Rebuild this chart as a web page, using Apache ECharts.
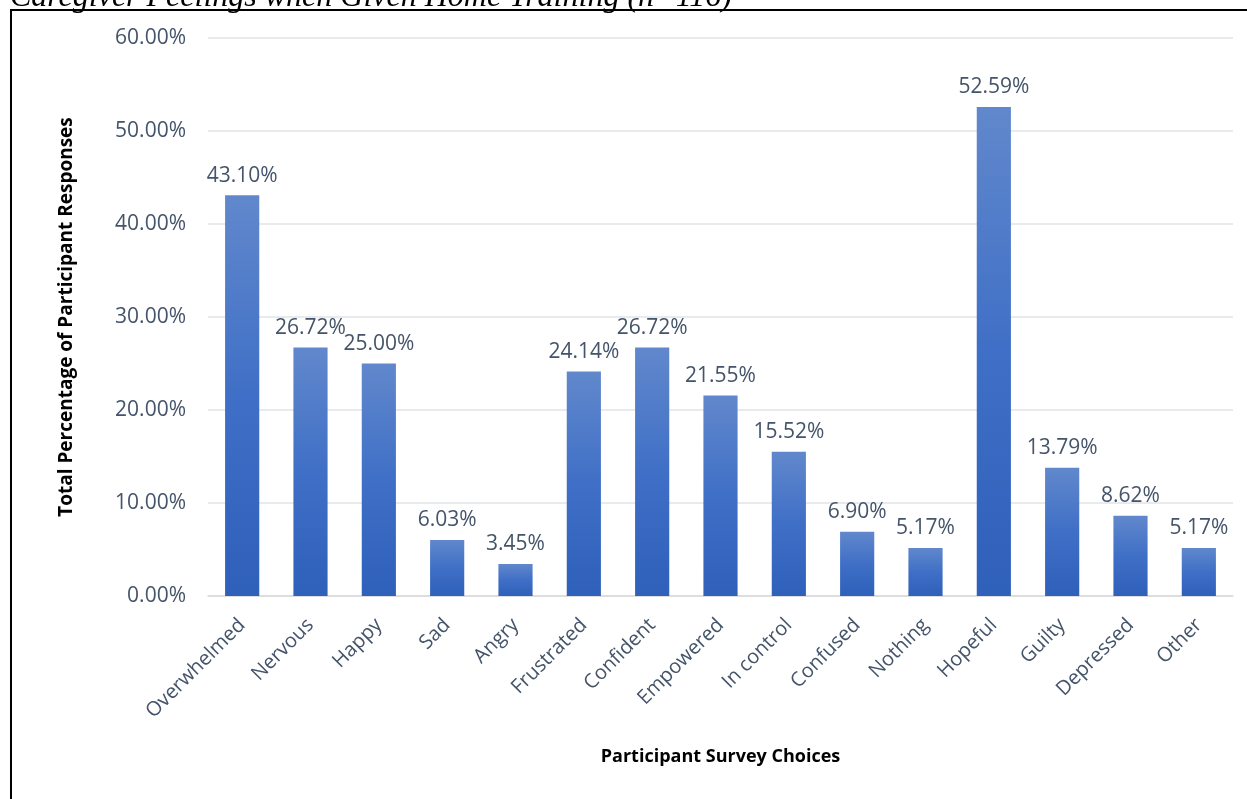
<!DOCTYPE html>
<html>
<head>
<meta charset="utf-8">
<script src="https://cdn.jsdelivr.net/npm/echarts@6/dist/echarts.min.js"></script>
<style>
  html, body { margin: 0; padding: 0; background: #fff; }
  #chart { width: 1247px; height: 799px; }
</style>
</head>
<body>
<div id="chart"></div>
<script>
// Survey responses: share of participants choosing each feeling
const categories = ['Overwhelmed', 'Nervous', 'Happy', 'Sad', 'Angry', 'Frustrated', 'Confident',
  'Empowered', 'In control', 'Confused', 'Nothing', 'Hopeful', 'Guilty', 'Depressed', 'Other'];
const percentages = [43.10, 26.72, 25.00, 6.03, 3.45, 24.14, 26.72, 21.55, 15.52, 6.90, 5.17, 52.59, 13.79, 8.62, 5.17];
const yTicks = { min: 0, max: 60, interval: 10 };
const titleText = 'Caregiver Feelings when Given Home Training (n=116)';

const chart = echarts.init(document.getElementById('chart'), null, { renderer: 'canvas' });

const labelColor = '#44546a';
const font = '"Open Sans", sans-serif';

chart.setOption({
  animation: false,
  backgroundColor: '#fff',
  graphic: [
    {
      type: 'rect',
      shape: { x: 11, y: 10, width: 1400, height: 1000 },
      style: { fill: 'none', stroke: '#000', lineWidth: 2 },
      silent: true
    },
    {
      type: 'text',
      left: 10,
      top: -18,
      style: {
        text: titleText,
        font: 'italic 32px "Liberation Serif", serif',
        fill: '#000'
      },
      silent: true
    }
  ],
  grid: { left: 208, right: 14, top: 38, bottom: 203, containLabel: false },
  xAxis: {
    type: 'category',
    data: categories,
    name: 'Participant Survey Choices',
    nameLocation: 'middle',
    nameGap: 152,
    nameTextStyle: { fontFamily: font, fontWeight: 'bold', fontSize: 18, color: '#000' },
    axisLine: { lineStyle: { color: '#d9d9d9', width: 1.5 } },
    axisTick: { show: false },
    axisLabel: { rotate: 45, margin: 26, fontFamily: font, fontSize: 20, color: labelColor, interval: 0 }
  },
  yAxis: {
    type: 'value',
    min: yTicks.min,
    max: yTicks.max,
    interval: yTicks.interval,
    name: 'Total Percentage of Participant Responses',
    nameLocation: 'middle',
    nameGap: 132,
    nameRotate: 90,
    nameTextStyle: { fontFamily: font, fontWeight: 'bold', fontSize: 19, color: '#000' },
    axisLine: { show: false },
    axisTick: { show: false },
    splitLine: { lineStyle: { color: '#e1e4e8', width: 1.5 } },
    axisLabel: {
      margin: 22,
      fontFamily: font,
      fontSize: 21,
      color: labelColor,
      formatter: v => v.toFixed(2) + '%'
    }
  },
  series: [{
    type: 'bar',
    data: percentages,
    barWidth: '50%',
    itemStyle: {
      color: new echarts.graphic.LinearGradient(0, 0, 0, 1, [
        { offset: 0, color: '#6188cc' },
        { offset: 0.5, color: '#3f6fc6' },
        { offset: 1, color: '#2f60ba' }
      ])
    },
    label: {
      show: true,
      position: 'top',
      distance: 9,
      fontFamily: font,
      fontSize: 21,
      color: labelColor,
      formatter: p => p.value.toFixed(2) + '%'
    }
  }]
});
</script>
</body>
</html>
